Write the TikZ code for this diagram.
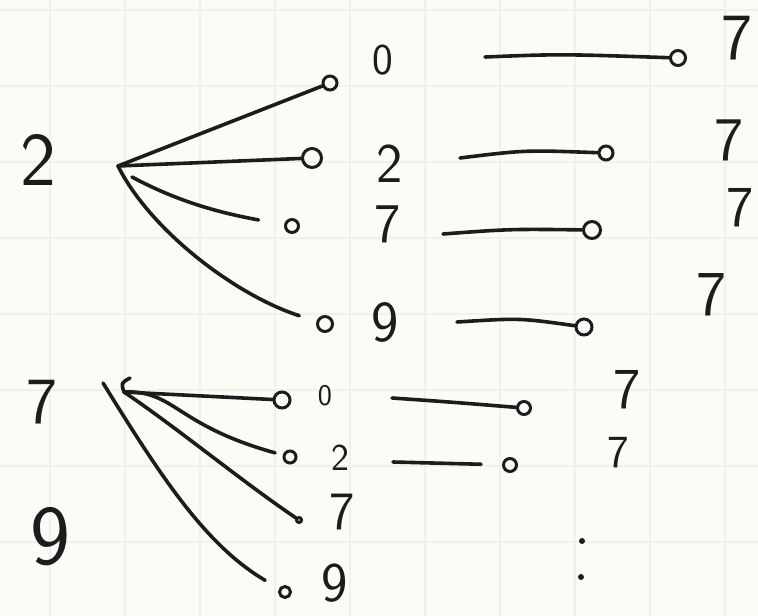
\documentclass[tikz,border=0pt]{standalone}
\usepackage{fontspec}
\usetikzlibrary{arrows.meta}
\definecolor{inkc}{HTML}{1C1C1C}
\definecolor{paper}{HTML}{FCFBF7}
\definecolor{gridc}{HTML}{F2F0EA}
\tikzset{
  ink/.style={line width=3.6pt, line cap=round, line join=round, draw=inkc},
  ring/.style={circle, draw=inkc, line width=3pt, inner sep=0pt, minimum size=#1},
  dig/.style={font=\sffamily\fontsize{#1}{#1}\selectfont, inner sep=0pt, text=inkc},
  dot/.style={circle, fill=inkc, inner sep=0pt, minimum size=6pt},
}
\begin{document}
\begin{tikzpicture}[x=1pt,y=-1pt]
\fill[paper] (0,0) rectangle (758,616);
\useasboundingbox (0,0) rectangle (758,616);
% grid
\foreach \gx in {50,125,...,725} \draw[gridc, line width=1.6pt] (\gx,0) -- (\gx,616);
\foreach \gy in {10,86,...,616} \draw[gridc, line width=1.6pt] (0,\gy) -- (758,\gy);

% ---------- top tree ----------
\node[dig=76] (L2) at (38,160) {2};
\coordinate (h1) at (118,166);
\coordinate (h1b) at (132,177);
\node[ring=14pt] (c1) at (330,83) {};
\node[ring=19pt] (c2) at (312,158) {};
\node[ring=13pt] (c3) at (292,226) {};
\node[ring=15pt] (c4) at (325,324) {};
\node[dig=44] (d0) at (383,60) {0};
\node[dig=56] (d2) at (390,164) {2};
\node[dig=56] (d7) at (388,224) {7};
\node[dig=58] (d9) at (385,322) {9};

\draw[ink] (h1) -- (c1);
\draw[ink] (h1) -- (c2);
\draw[ink, shorten >=26pt] (h1b) .. controls (175,200) and (215,212) .. (c3);
\draw[ink, shorten >=18pt] (h1) .. controls (150,230) and (235,295) .. (c4);

% right column of top tree
\coordinate (s1) at (485,57);
\coordinate (s2) at (460,158);
\coordinate (s3) at (443,234);
\coordinate (s4) at (457,322);
\node[ring=15pt] (r1) at (678,58) {};
\node[ring=14pt] (r2) at (606,153) {};
\node[ring=17pt] (r3) at (592,230) {};
\node[ring=16pt] (r4) at (584,327) {};
\draw[ink] (s1) .. controls (560,54) .. (r1);
\draw[ink] (s2) .. controls (525,150) .. (r2);
\draw[ink] (s3) .. controls (510,229) .. (r3);
\draw[ink] (s4) .. controls (520,318) .. (r4);
\node[dig=66] (t1) at (737,38) {7};
\node[dig=62] (t2) at (729,140) {7};
\node[dig=58] (t3) at (740,208) {7};
\node[dig=64] (t4) at (712,295) {7};

% ---------- bottom tree ----------
\node[dig=66] (B7) at (42,402) {7};
\node[dig=85] (B9) at (50,537) {9};
\coordinate (h2) at (124,392);
\coordinate (h2t) at (130,378);
\coordinate (h3) at (103,383);
\draw[ink] (h2t) .. controls (121,383) .. (h2);
\node[ring=16pt] (b1) at (282,400) {};
\node[ring=12pt] (b2) at (290,457) {};
\node[ring=5pt] (b3) at (299,520) {};
\node[ring=11pt] (b4) at (285,592) {};
\draw[ink] (h2) -- (b1);
\draw[ink, shorten >=8pt] (h2) .. controls (175,390) and (175,425) .. (b2);
\draw[ink] (h2) .. controls (180,430) and (240,480) .. (b3);
\draw[ink, shorten >=16pt] (h3) .. controls (160,475) and (205,545) .. (b4);
\node[dig=30] (b0d) at (325,396) {0};
\node[dig=38] (b2d) at (340,458) {2};
\node[dig=54] (b7d) at (342,512) {7};
\node[dig=56] (b9d) at (335,583) {9};

% right column of bottom tree
\coordinate (u1) at (392,398);
\coordinate (u2) at (393,462);
\node[ring=13pt] (q1) at (524,408) {};
\node[ring=13pt] (q2) at (510,465) {};
\draw[ink] (u1) .. controls (450,402) .. (q1);
\draw[ink, shorten >=21pt] (u2) -- (q2);
\node[dig=58] (v1) at (627,390) {7};
\node[dig=46] (v2) at (618,453) {7};
\node[dot] (p1) at (582,541) {};
\node[dot] (p2) at (581,577) {};
\end{tikzpicture}
\end{document}
